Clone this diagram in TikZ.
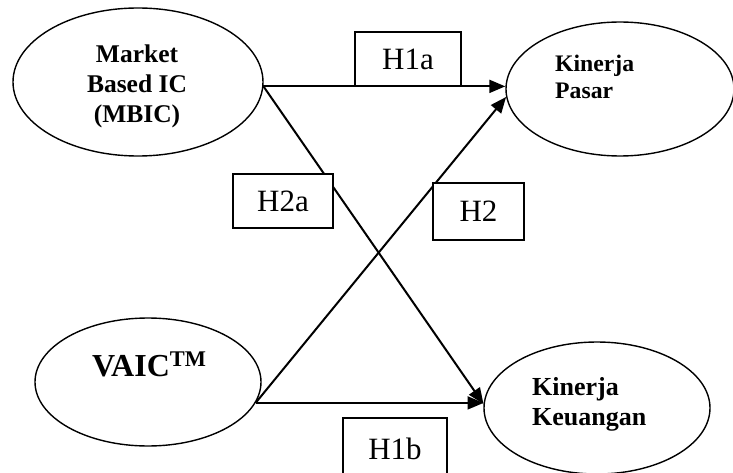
\documentclass[tikz,border=0pt]{standalone}
\usepackage{fontspec}
\setmainfont{Liberation Serif}
\usetikzlibrary{arrows.meta,positioning,calc,shapes}

\begin{document}
\begin{tikzpicture}[
    % GLOBAL CFG
    x=1pt, y=-1pt,
    >={Triangle[length=16pt,width=13pt]},
    % Styles
    construct/.style={% For the variables
        ellipse,
        draw,
        line width=1.4pt,
        inner sep=0pt,
        },
    hyp/.style={% For the hypothesis boxes
        rectangle,
        draw,
        fill=white,
        line width=1.2pt,
        inner sep=0pt,
        font=\fontsize{31}{36}\selectfont,
        },
    vtext/.style={% For the variable names
        inner sep=0pt,
        align=left,
        },
    ArrowH/.style={% Arrows for the paths
        line width=2pt,
        },
    ]

    \useasboundingbox[fill=white] (0,0) rectangle (733,473);

    % Draw the constructs
    \node [construct, minimum width=250pt, minimum height=148pt] (mbic) at (138,82) {};
    \node [construct, minimum width=228pt, minimum height=134pt] (pasar) at (620,89) {};
    \node [construct, minimum width=226pt, minimum height=128pt] (vaic) at (148,382) {};
    \node [construct, minimum width=226pt, minimum height=132pt] (keu) at (597,408) {};

    % Names of the constructs (base = last line)
    \node [vtext, align=center, font=\fontsize{25.5}{30}\selectfont\bfseries, anchor=base] (mbicText) at (137,123) {Market\\Based IC\\(MBIC)};
    \node [vtext, font=\fontsize{23.7}{27}\selectfont\bfseries, anchor=base west] (pasarText) at (555,99) {Kinerja\\Pasar};
    \node [vtext, font=\fontsize{32}{36}\selectfont\bfseries, anchor=base west] (vaicText) at (92,376) {VAIC\textsuperscript{TM}};
    \node [vtext, font=\fontsize{26}{30}\selectfont\bfseries, anchor=base west] (keuText) at (532,425) {Kinerja\\Keuangan};

    % Drawing arrows
    \draw [->, ArrowH] (mbic.-2) -- (mbic.-2 -| pasar.west);
    \draw [->, ArrowH] (mbic.-2) -- (keu.178);
    \draw [->, ArrowH] (vaic.-11) -- (pasar.184);
    \draw [->, ArrowH] (vaic.-11) -- (vaic.-11 -| keu.178);

    % Hypothesis boxes on top
    \node [hyp, minimum width=106pt, minimum height=54pt] (h1a) at (408,59) {H1a};
    \node [hyp, minimum width=100pt, minimum height=54pt] (h2a) at (283,201) {H2a};
    \node [hyp, minimum width=91pt, minimum height=57pt] (h2) at (478.5,211.5) {H2};
    \node [hyp, minimum width=104pt, minimum height=62pt] (h1b) at (395,449) {H1b};

\end{tikzpicture}
\end{document}
